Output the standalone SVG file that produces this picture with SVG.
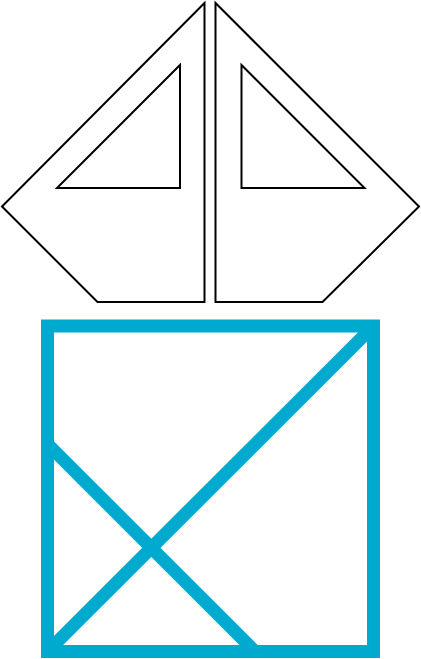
<svg xmlns="http://www.w3.org/2000/svg" width="421" height="659" viewBox="0 0 421 659">
<style>
.sail{fill:#fff;stroke:#000;stroke-width:2;stroke-linejoin:miter}
.blue{fill:none;stroke:#00a9ce;stroke-width:13}
</style>
<rect width="421" height="659" fill="#fff"/>
<g id="sail-left">
<polygon class="sail" points="204.5,3 204.5,302 97.5,302 2,206.5"/>
<polygon class="sail" points="180,65 180,188 57,188"/>
</g>
<g id="sail-right">
<polygon class="sail" points="215.5,3 215.5,302 322.5,302 419,206.5"/>
<polygon class="sail" points="241.5,65 241.5,188 364.5,188"/>
</g>
<g id="hull">
<rect class="blue" x="47.5" y="326" width="326" height="325.5"/>
<line class="blue" x1="373.5" y1="326" x2="47.5" y2="651.5"/>
<line class="blue" x1="47.5" y1="444" x2="255" y2="651.5"/>
</g>
</svg>
